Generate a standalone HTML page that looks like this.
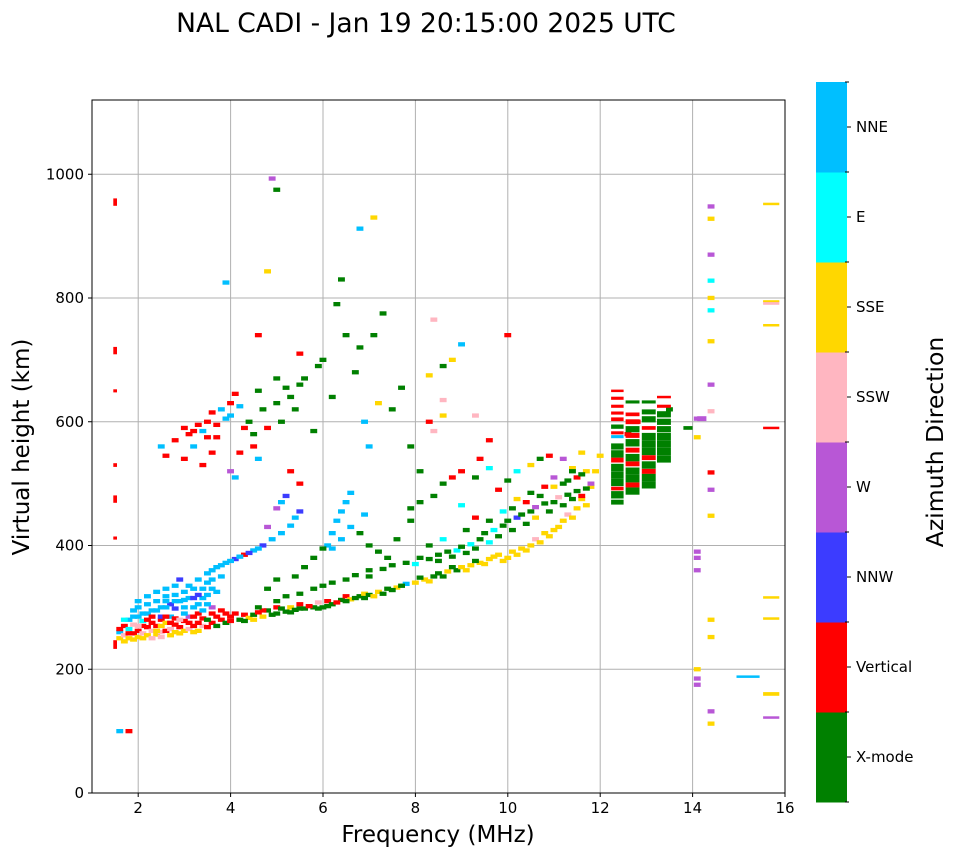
<!DOCTYPE html>
<html><head><meta charset="utf-8"><style>
html,body{margin:0;padding:0;background:#fff;}
svg text{font-family:"DejaVu Sans","Liberation Sans",sans-serif;}
</style></head><body>
<svg id="chart" width="958" height="857" viewBox="0 0 958 857" xmlns="http://www.w3.org/2000/svg">
<text x="426" y="32" font-size="26.5" text-anchor="middle">NAL CADI - Jan 19 20:15:00 2025 UTC</text>
<g id="grid"></g>
<g id="marks"></g>
<rect x="92" y="100" width="693" height="693" fill="none" stroke="#000" stroke-width="1"/>
<g id="axes"></g>
<text x="438" y="842" font-size="23" text-anchor="middle">Frequency (MHz)</text>
<text transform="translate(29,447) rotate(-90)" font-size="23" text-anchor="middle">Virtual height (km)</text>
<g id="colorbar"></g>
<text transform="translate(943,442) rotate(-90)" font-size="23.5" text-anchor="middle">Azimuth Direction</text>
</svg>
<script>
const categories=["X-mode","Vertical","NNW","W","SSW","SSE","E","NNE"];
const catColors=["#008000","#ff0000","#3c3cff","#b857d6","#ffb6c1","#ffd700","#00ffff","#00bfff"];
const xTicks=[2,4,6,8,10,12,14,16];
const yTicks=[0,200,400,600,800,1000];
// [freq MHz, virtual height km, category index, (bin width MHz), (bin height km)]
const lowCluster=[
[1.5,240,1,0.08,14],[1.6,250,5],[1.6,260,7],[1.7,255,4],[1.7,270,1],[1.8,250,5],[1.8,265,6],[1.8,280,7],[1.9,258,1],[1.9,272,4],
[2.0,252,5],[2.0,262,1],[2.0,285,7],[2.0,300,7],[2.1,258,4],[2.1,270,1],[2.1,290,7],[2.2,255,5],[2.2,268,1],[2.2,305,7],
[2.3,262,4],[2.3,275,1],[2.3,295,7],[2.4,256,5],[2.4,270,1],[2.4,310,7],[2.5,260,4],[2.5,280,1],[2.5,300,7],[2.6,262,1],
[2.6,275,5],[2.6,318,7],[2.7,265,4],[2.7,285,7],[2.8,260,5],[2.8,272,1],[2.8,298,2],[2.9,268,1],[2.9,310,7],[3.0,262,5],
[3.0,278,1],[3.0,325,7],[3.1,265,4],[3.1,285,3],[3.2,270,1],[3.2,300,7],[3.2,330,7],[3.3,262,5],[3.3,290,1],[3.4,270,4],
[3.4,315,7],[3.5,268,1],[3.5,340,7],[3.6,275,1],[3.6,300,3],[3.7,270,0],[3.7,325,7],[3.8,280,1],[3.8,350,7],[3.9,275,0],
[2.5,285,2],[2.7,305,2],[3.0,300,7],[3.3,320,2],[3.5,305,7],[2.2,290,7],[1.9,295,7],[2.4,325,7],[2.9,345,2],[3.1,335,7],
[1.6,265,1],[1.7,245,5],[1.7,280,6],[1.8,258,1],[1.9,248,5],[1.9,285,7],[2.0,270,4],[2.1,250,5],[2.1,278,6],[2.2,280,1],
[2.3,250,4],[2.3,285,1],[2.4,262,5],[2.4,295,7],[2.5,252,4],[2.5,270,5],[2.6,285,1],[2.6,300,7],[2.7,255,5],[2.7,275,1],
[2.8,282,1],[2.8,310,7],[2.9,258,5],[2.9,280,4],[3.0,290,7],[3.1,275,1],[3.1,315,7],[3.2,260,5],[3.2,285,1],[3.3,275,1],
[3.3,305,7],[3.4,282,1],[3.4,330,7],[3.5,280,0],[3.5,320,7],[3.6,290,1],[3.6,345,7],[3.7,285,1],[3.8,295,1],[3.9,290,1],
[2.6,310,7],[2.8,320,7],[3.0,312,7],[3.2,315,2],[3.4,295,7],[2.0,310,7],[2.2,318,7],[2.6,330,7],[2.8,335,7],[3.6,330,7]
];
const lowerTrace=[
[4.0,278,1],[4.0,285,1],[4.2,280,0],[4.3,288,1],[4.4,283,5],[4.5,288,0],[4.6,292,1],[4.7,285,5],[4.8,295,0],[5.0,290,0],
[5.0,300,1],[5.2,293,0],[5.3,300,5],[5.4,296,0],[5.5,305,1],[5.6,298,0],[5.8,300,0],[5.9,308,4],[6.0,300,0],[6.1,310,1],
[6.2,305,0],[6.4,312,0],[6.5,318,1],[6.6,313,5],[6.8,318,0],[6.9,322,5],[7.0,320,0],[7.2,325,5],[7.4,330,0],[7.6,332,5],
[7.8,338,7],[8.0,340,5],[8.2,345,5],[8.4,350,0],[8.5,355,0],[8.7,358,5],[8.9,360,0],[9.0,365,5],[9.2,368,5],[9.4,372,5],
[9.6,378,5],[9.8,385,5],[10.0,380,5],[10.1,390,5],[10.3,395,5],[10.5,400,5],[10.6,410,4],[10.8,420,5],[11.0,425,5],[11.2,440,5],
[11.3,450,4],[11.5,460,5],[11.6,475,5],[11.8,495,5],[11.9,520,5],[12.0,545,5],
[4.1,290,1],[4.3,278,0],[4.5,280,5],[4.7,295,1],[4.9,288,0],[5.1,298,0],[5.3,292,0],[5.5,298,0],[5.7,302,1],[5.9,298,0],
[6.1,302,0],[6.3,308,1],[6.5,310,0],[6.7,315,0],[6.9,315,0],[7.1,318,5],[7.3,322,0],[7.5,328,0],[7.7,335,0],[8.1,348,0],
[8.3,342,5],[8.6,350,0],[8.8,365,0],[9.1,360,5],[9.3,375,0],[9.5,370,5],[9.7,382,5],[9.9,375,5],[10.2,385,5],[10.4,392,5],
[10.7,405,5],[10.9,415,5],[11.1,430,5],[11.4,445,5],[11.7,465,5]
];
const xTrace=[
[4.6,300,0],[5.0,310,0],[5.2,318,0],[5.5,322,0],[5.8,330,0],[6.0,335,0],[6.2,340,0],[6.5,345,0],[6.7,352,0],[7.0,350,0],
[7.0,360,0],[7.3,362,0],[7.5,368,0],[7.8,372,0],[8.0,370,6],[8.3,378,0],[8.5,385,0],[8.7,390,0],[8.9,392,6],[9.0,398,0],
[9.2,402,6],[9.4,410,0],[9.5,420,0],[9.7,425,6],[9.9,432,0],[10.0,440,0],[10.2,445,2],[10.3,450,0],[10.5,455,0],[10.6,462,3],
[10.8,468,0],[11.0,470,0],[11.1,478,4],[11.3,482,0],[11.5,488,0],[11.7,492,0],[11.8,500,3],[8.3,400,0],[8.6,410,6],[9.1,425,0],
[9.6,440,0],[10.1,460,0],[10.4,470,1],[10.7,480,0],[11.0,495,5],[11.2,500,0],[11.5,510,1],[11.7,520,5],[9.3,445,1],[9.9,455,6],
[8.5,375,0],[8.8,382,0],[9.1,388,0],[9.3,395,0],[9.6,405,6],[9.8,415,0],[10.1,425,0],[10.4,435,0],[10.6,445,5],[10.9,455,0],
[11.2,465,0],[11.4,475,0],[11.6,480,1],[10.2,475,5],[10.5,485,0],[10.8,495,1],[11.3,505,0],[11.6,515,0],[11.4,525,5],[11.0,510,3]
];
const upperTrace=[
[3.3,345,7],[3.5,355,7],[3.7,365,7],[3.9,372,7],[4.1,378,2],[4.3,385,1],[4.5,392,7],[4.7,400,2],[4.9,410,7],[5.1,420,7],
[5.3,432,7],[5.4,445,7],[5.5,455,2],[6.1,400,7],[6.2,420,7],[6.3,440,7],[6.4,455,7],[6.5,470,7],[6.6,485,7],[6.0,395,0],
[5.8,380,0],[5.6,365,0],[5.4,350,0],[5.0,345,0],[4.8,330,0],[6.8,420,0],[7.0,400,0],[7.2,390,0],[7.4,380,0],[7.6,410,0],
[7.9,440,0],[7.9,460,0],[8.1,470,0],[8.4,480,0],[8.6,500,0],[8.8,510,1],[9.0,520,1],[9.3,510,0],[9.6,525,6],[9.8,490,1],
[10.0,505,0],[10.2,520,6],[10.5,530,5],[10.7,540,0],[10.9,545,1],[11.2,540,3],[11.4,520,0],[11.6,550,5],[8.1,380,0],[9.0,465,6],
[3.6,360,7],[3.8,368,7],[4.0,375,7],[4.2,382,7],[4.4,388,2],[4.6,395,7],[6.2,395,7],[6.4,410,7],[6.6,430,7],[6.9,450,7]
];
const secondHop=[
[2.5,560,7],[2.6,545,1],[2.8,570,1],[3.0,590,1],[3.1,580,1],[3.2,560,7],[3.3,595,1],[3.4,585,7],[3.5,600,1],[3.6,615,1],
[3.7,575,1],[3.8,620,7],[3.9,605,7],[4.0,630,1],[4.1,645,1],[4.2,625,7],[4.4,600,0],[4.6,650,0],[4.8,590,1],[5.0,630,0],
[5.1,600,0],[5.2,655,0],[5.4,620,0],[5.6,670,0],[5.8,585,0],[6.0,700,0],[6.2,640,0],[6.3,790,0],[6.5,740,0],[6.7,680,0],
[3.0,540,1],[3.4,530,1],[3.6,550,1],[4.2,550,1],[4.5,560,1],[4.0,520,3],[4.6,540,7],[4.1,510,7],[6.9,600,7],[7.0,560,7],
[5.5,500,1],[5.3,520,1],[5.0,460,3],[4.8,430,3],[5.2,480,2],[5.1,470,7],[4.6,740,1],[5.5,710,1],[5.9,690,0],[6.4,830,0],
[3.2,585,1],[3.5,575,1],[3.7,595,1],[4.0,610,7],[4.3,590,1],[4.5,580,0],[4.7,620,0],[5.0,670,0],[5.3,640,0],[5.5,660,0]
];
const scattered=[
[1.5,955,1,0.08,12],[1.5,715,1,0.08,12],[1.5,650,1,0.08,5],[1.5,530,1,0.08,6],[1.5,475,1,0.08,12],[1.5,412,1,0.08,5],[1.6,100,7],[1.8,100,1],
[4.9,993,3],[5.0,975,0],[6.8,912,7],[7.1,930,5],[4.8,843,5],[3.9,825,7],[8.4,765,4],[8.6,690,0],[8.8,700,5],[8.3,675,5],
[9.0,725,7],[10.0,740,1],[9.6,570,1],[9.4,540,1],[12.6,580,1],[12.8,600,1],[13.5,620,0],[8.4,585,4],[8.6,635,4],[8.6,610,5],
[7.3,775,0],[7.1,740,0],[6.8,720,0],[7.2,630,5],[7.5,620,0],[7.7,655,0],[8.3,600,1],[8.1,520,0],[7.9,560,0],[9.3,610,4],
[15.2,188,7,0.5,4],[15.7,160,5,0.35,6],[15.7,122,3,0.35,4],[15.7,282,5,0.35,4],[15.7,316,5,0.35,4],[15.7,590,1,0.35,4],
[15.7,756,5,0.35,4],[15.7,792,4,0.35,6],[15.7,795,5,0.35,3],[15.7,952,5,0.35,4],[13.9,590,0,0.2,6],[14.2,605,3,0.2,8]
];
const cluster=[
[12.37,470,0,0.27,8],[12.37,482,0,0.27,12],[12.37,492,1,0.27,6],[12.37,502,0,0.27,12],[12.37,514,0,0.27,12],[12.37,526,0,0.27,12],
[12.37,538,1,0.27,8],[12.37,548,0,0.27,12],[12.37,560,0,0.27,10],[12.37,576,7,0.27,5],[12.37,582,1,0.27,5],[12.37,592,0,0.27,7],
[12.37,604,1,0.27,6],[12.37,614,1,0.27,5],[12.37,625,1,0.27,5],[12.37,638,1,0.27,5],[12.37,650,1,0.27,4],
[12.7,488,0,0.3,12],[12.7,498,1,0.3,8],[12.7,508,0,0.3,12],[12.7,520,0,0.3,12],[12.7,532,1,0.3,8],[12.7,542,0,0.3,12],
[12.7,554,1,0.3,8],[12.7,566,0,0.3,12],[12.7,578,1,0.3,8],[12.7,588,0,0.3,10],[12.7,600,1,0.3,8],[12.7,612,1,0.3,6],[12.7,632,0,0.3,5],
[13.05,498,0,0.3,12],[13.05,510,0,0.3,12],[13.05,520,1,0.3,8],[13.05,530,0,0.3,12],[13.05,542,1,0.3,8],[13.05,552,0,0.3,12],
[13.05,564,0,0.3,12],[13.05,576,0,0.3,12],[13.05,590,1,0.3,6],[13.05,604,0,0.3,10],[13.05,616,0,0.3,8],[13.05,632,0,0.3,5],
[13.38,540,0,0.3,12],[13.38,552,0,0.3,12],[13.38,564,0,0.3,12],[13.38,576,0,0.3,12],[13.38,588,0,0.3,10],[13.38,600,0,0.3,10],
[13.38,612,0,0.3,10],[13.38,625,1,0.3,5],[13.38,640,1,0.3,4]
];
const col14=[
[14.1,175,3],[14.1,185,3],[14.1,200,5],[14.1,360,3],[14.1,380,3],[14.1,390,3],[14.1,575,5],[14.1,605,3],
[14.4,112,5],[14.4,132,3],[14.4,252,5],[14.4,280,5],[14.4,448,5],[14.4,490,3],[14.4,518,1],[14.4,617,4],[14.4,660,3],
[14.4,730,5],[14.4,780,6],[14.4,800,5],[14.4,828,6],[14.4,870,3],[14.4,928,5],[14.4,948,3]
];
const allSeries=[lowCluster,lowerTrace,xTrace,upperTrace,secondHop,scattered,cluster,col14];
const X0=92,X1=785,Y0=793,Y1=100,FMIN=1,FMAX=16,HMIN=0,HMAX=1120;
function xs(f){return X0+(f-FMIN)/(FMAX-FMIN)*(X1-X0);}
function ys(h){return Y0-(h-HMIN)/(HMAX-HMIN)*(Y0-Y1);}
const NS="http://www.w3.org/2000/svg";
function mk(tag,attrs,parent){const e=document.createElementNS(NS,tag);for(const k in attrs)e.setAttribute(k,attrs[k]);parent.appendChild(e);return e;}
const grid=document.getElementById('grid'),marks=document.getElementById('marks'),axes=document.getElementById('axes'),cb=document.getElementById('colorbar');
xTicks.forEach(t=>{
 const x=xs(t);
 if(t<FMAX){const g=mk('line',{x1:x,x2:x,y1:Y1,y2:Y0,stroke:'#b0b0b0','stroke-width':1},grid);
 
 }
 const tk=mk('line',{x1:x,x2:x,y1:Y0,y2:Y0+4,stroke:'#000'},axes);
 
 
 const tl=mk('text',{x:x,y:Y0+20,'font-size':15,'text-anchor':'middle'},axes);tl.textContent=t;
 
 
});
yTicks.forEach(t=>{
 const y=ys(t);
 if(t>HMIN){const g=mk('line',{x1:X0,x2:X1,y1:y,y2:y,stroke:'#b0b0b0','stroke-width':1},grid);
 
 }
 const tk=mk('line',{x1:X0-4,x2:X0,y1:y,y2:y,stroke:'#000'},axes);
 
 
 const tl=mk('text',{x:X0-8,y:y+5,'font-size':15,'text-anchor':'end'},axes);tl.textContent=t;
 
 
});
allSeries.forEach(series=>series.forEach(p=>{
 const f=p[0],h=p[1],c=p[2],w=p[3]||0.15,hh=p[4]||7;
 const x=xs(f-w/2),x2=xs(f+w/2),y=ys(h+hh/2),y2=ys(h-hh/2);
 const r=mk('rect',{x:x.toFixed(1),y:y.toFixed(1),width:(x2-x).toFixed(1),height:(y2-y).toFixed(1),fill:catColors[c]},marks);
 
 
}));
const CBX=816,CBW=31,CBTOP=82,CBH=720,seg=CBH/categories.length;
categories.forEach((name,i)=>{
 const y=CBTOP+CBH-(i+1)*seg;
 const r=mk('rect',{x:CBX,y:y,width:CBW,height:seg+0.5,fill:catColors[i]},cb);
 
 
 const tk=mk('line',{x1:CBX+CBW,x2:CBX+CBW+4,y1:y+seg/2,y2:y+seg/2,stroke:'#000'},cb);
 
 
 const t=mk('text',{x:CBX+CBW+9,y:y+seg/2+5,'font-size':15},cb);t.textContent=name;
 
 
});
for(let i=0;i<=categories.length;i++){
 const y=CBTOP+i*seg;
 const l=mk('line',{x1:CBX+CBW-2,x2:CBX+CBW+2,y1:y,y2:y,stroke:'#000'},cb);
 
 
}
</script>
</body></html>
